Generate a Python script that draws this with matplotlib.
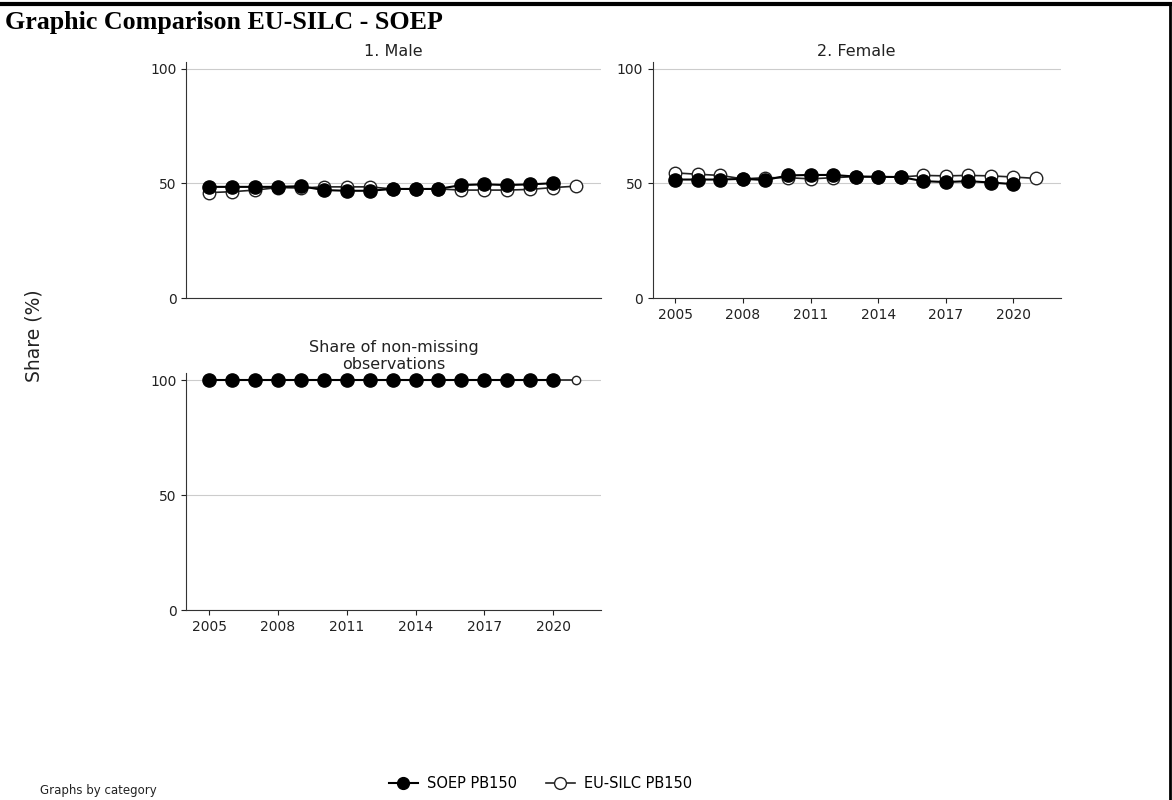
import matplotlib.pyplot as plt
from matplotlib.lines import Line2D

# years of the two surveys
years_soep = list(range(2005, 2021))
years_silc = list(range(2005, 2022))

# 1. Male (share %)
male_soep = [48.5, 48.5, 48.5, 48.5, 48.8, 47.1, 46.8, 46.8, 47.6, 47.6, 47.6, 49.3, 49.6, 49.3, 49.6, 50.1]
male_silc = [46.0, 46.4, 47.1, 48.2, 48.0, 48.5, 48.5, 48.5, 47.6, 47.6, 47.6, 47.1, 47.1, 47.1, 47.4, 48.2, 48.8]

# 2. Female (share %)
female_soep = [51.7, 51.7, 51.7, 52.0, 51.5, 53.5, 53.7, 53.7, 53.0, 52.9, 52.8, 51.0, 50.6, 51.0, 50.4, 49.7]
female_silc = [54.6, 54.0, 53.5, 52.0, 52.5, 52.5, 52.0, 52.5, 53.0, 52.9, 52.8, 53.5, 53.3, 53.5, 53.3, 52.8, 52.2]

# share of non-missing observations
nonmiss_soep = [100] * 16
nonmiss_silc = [100] * 17

yticks = [0, 50, 100]
xticks = [2005, 2008, 2011, 2014, 2017, 2020]

fig = plt.figure(figsize=(11.72, 8.0), dpi=100)

panels = [
    ([0.159, 0.6275, 0.354, 0.295], '1. Male', male_soep, male_silc, False, 9, 4),
    ([0.557, 0.6275, 0.348, 0.295], '2. Female', female_soep, female_silc, True, 9, 4),
    ([0.159, 0.2375, 0.354, 0.296], 'Share of non-missing\nobservations', nonmiss_soep, nonmiss_silc, True, 6, 3),
]

for rect, title, soep, silc, show_x, open_ms, pad in panels:
    ax = fig.add_axes(rect)
    ax.plot(years_silc, silc, color='#222222', linewidth=1.2, marker='o', markersize=open_ms,
            markerfacecolor='white', markeredgecolor='#222222', markeredgewidth=1.0, zorder=3)
    ax.plot(years_soep, soep, color='black', linewidth=1.5, marker='o', markersize=9.5,
            markerfacecolor='black', markeredgecolor='black', zorder=4)
    ax.set_xlim(2004, 2022.1)
    ax.set_ylim(0, 103)
    ax.set_yticks(yticks)
    ax.set_xticks(xticks)
    if not show_x:
        ax.tick_params(axis='x', labelbottom=False, length=0)
    ax.tick_params(labelsize=10, colors='#222222')
    ax.yaxis.grid(True, color='#cccccc', linewidth=0.8)
    ax.set_axisbelow(True)
    for side in ['top', 'right']:
        ax.spines[side].set_visible(False)
    for side in ['left', 'bottom']:
        ax.spines[side].set_color('#333333')
    ax.set_title(title, fontsize=11.5, color='#222222', pad=pad, linespacing=1.2)

fig.text(0.004, 0.986, 'Graphic Comparison EU-SILC - SOEP', fontfamily='Liberation Serif',
         fontweight='bold', fontsize=18.7, va='top', ha='left')
fig.text(0.029, 0.58, 'Share (%)', rotation=90, fontsize=13.5, va='center', ha='center', color='#222222')
fig.text(0.034, 0.004, 'Graphs by category', fontsize=8.5, va='bottom', ha='left', color='#222222')

handles = [
    Line2D([], [], color='black', linewidth=1.5, marker='o', markersize=8.5,
           markerfacecolor='black', markeredgecolor='black'),
    Line2D([], [], color='#222222', linewidth=1.2, marker='o', markersize=8.5,
           markerfacecolor='white', markeredgecolor='#222222'),
]
fig.legend(handles, ['SOEP PB150', 'EU-SILC PB150'], loc='center', bbox_to_anchor=(0.461, 0.02),
           ncol=2, frameon=False, fontsize=10.5, handlelength=2, handletextpad=0.6, columnspacing=2)

# border of the graphic
fig.add_artist(Line2D([0, 0.9985], [0.995, 0.995], color='black', linewidth=3, transform=fig.transFigure))
fig.add_artist(Line2D([0.9985, 0.9985], [0, 0.995], color='black', linewidth=2, transform=fig.transFigure))

fig.savefig('out.png', dpi=100)
